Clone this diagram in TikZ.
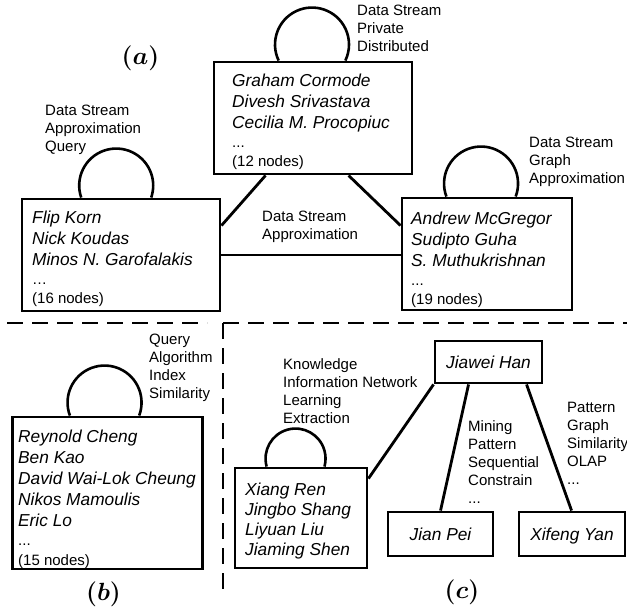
\documentclass[tikz,border=0pt]{standalone}
\usepackage[no-math]{fontspec}
\setmainfont{Liberation Sans}
\usepackage{bm}
\usetikzlibrary{calc}
\newcommand\nmfont{\fontsize{17.3}{21}\selectfont\itshape}
\newcommand\lbfont{\fontsize{15}{18}\selectfont\upshape}
\newcommand\tagfont{\fontsize{25}{30}\selectfont\boldmath}
\tikzset{
  box/.style={draw, line width=2.9pt, inner sep=0pt},
  namebox/.style={box, font=\nmfont, text depth=0pt},
  txt/.style={anchor=base west, inner sep=0pt, align=left},
  lbl/.style={anchor=base west, inner sep=0pt, font=\lbfont},
  loopline/.style={line width=2.6pt},
  conn/.style={line width=2.8pt},
  divline/.style={line width=2.9pt, dash pattern=on 16pt off 9pt},
  tag/.style={inner sep=0pt, font=\tagfont}
}
\begin{document}
\begin{tikzpicture}[x=1pt,y=1pt]
\useasboundingbox (0,0) rectangle (627,-611);

% ---------- (a) ----------
\node[tag] (taga) at (140.5,-58) {$(\bm{a})$};

\node[box, minimum width=198, minimum height=112] (a0) at (313,-118) {};
\node[txt] (a0t) at (232,-86) {\nmfont\begin{tabular}[t]{@{}l@{}}Graham Cormode\\Divesh Srivastava\\Cecilia M. Procopiuc\\[-2pt]\lbfont ...\\[-2pt]\lbfont (12 nodes)\end{tabular}};

\node[box, minimum width=198, minimum height=112] (a1) at (121,-255) {};
\node[txt] (a1t) at (32,-223) {\nmfont\begin{tabular}[t]{@{}l@{}}Flip Korn\\Nick Koudas\\Minos N. Garofalakis\\[-2pt]\lbfont …\\[-2pt]\lbfont (16 nodes)\end{tabular}};

\node[box, minimum width=170, minimum height=112] (a2) at (487,-254) {};
\node[txt] (a2t) at (411,-224) {\nmfont\begin{tabular}[t]{@{}l@{}}Andrew McGregor\\Sudipto Guha\\S. Muthukrishnan\\[-2pt]\lbfont ...\\[-2pt]\lbfont (19 nodes)\end{tabular}};

\draw[loopline] ($(a0.north west)+(66.1,0)$) arc[start angle=205.62, end angle=-25.62, radius=37];
\draw[loopline] ($(a1.north west)+(60.65,0)$) arc[start angle=198.92, end angle=-18.92, radius=37];
\draw[loopline] ($(a2.north west)+(45.86,0)$) arc[start angle=200.57, end angle=-20.57, radius=37];

\node[lbl] (l0) at (357,-15.7) {\begin{tabular}[t]{@{}l@{}}Data Stream\\Private\\Distributed\end{tabular}};
\node[lbl] (l1) at (45,-115) {\begin{tabular}[t]{@{}l@{}}Data Stream\\Approximation\\Query\end{tabular}};
\node[lbl] (l2) at (529,-147.3) {\begin{tabular}[t]{@{}l@{}}Data Stream\\Graph\\Approximation\end{tabular}};
\node[lbl] (lm) at (262,-221) {\begin{tabular}[t]{@{}l@{}}Data Stream\\Approximation\end{tabular}};

\draw[conn] ($(a0.south west)+(53,0)$) -- ($(a1.north east)+(0,-28)$);
\draw[conn] ($(a0.south west)+(136,0)$) -- ($(a2.north west)+(0,-29)$);
\draw[conn] (a1.east) -- (a1.east -| a2.west);

% ---------- dividers ----------
\coordinate (d0) at (7,-323);
\coordinate (d1) at (207,-323);
\coordinate (dc) at (223,-323);
\coordinate (dr) at (627,-323);
\coordinate (db) at (223,-590);
\draw[divline] (d0) -- (d1);
\draw[divline] (dc) -- (dr);
\draw[divline] (dc) -- (db);

% ---------- (b) ----------
\node[box, minimum width=190, minimum height=152] (b) at (107.7,-493) {};
\node[txt] (bt) at (18,-442) {\nmfont\begin{tabular}[t]{@{}l@{}}Reynold Cheng\\Ben Kao\\David Wai-Lok Cheung\\Nikos Mamoulis\\Eric Lo\\[-2pt]\lbfont ...\\[-1pt]\lbfont (15 nodes)\end{tabular}};
\draw[loopline] ($(b.north west)+(58.66,0)$) arc[start angle=200.57, end angle=-20.57, radius=37];
\node[lbl] (lb) at (149,-344) {\begin{tabular}[t]{@{}l@{}}Query\\Algorithm\\Index\\Similarity\end{tabular}};
\node[tag] (tagb) at (103.5,-594) {$(\bm{b})$};

% ---------- (c) ----------
\node[namebox, minimum width=107, minimum height=42] (j) at (488.5,-362) {Jiawei Han};
\node[namebox, minimum width=105, minimum height=44] (p) at (440.5,-534) {Jian Pei};
\node[namebox, minimum width=106, minimum height=44] (xy) at (572,-534) {Xifeng Yan};
\node[box, minimum width=132, minimum height=100] (c1) at (301,-518) {};
\node[txt] (c1t) at (245,-495) {\nmfont\begin{tabular}[t]{@{}l@{}}Xiang Ren\\[-1pt]Jingbo Shang\\[-1pt]Liyuan Liu\\[-1pt]Jiaming Shen\end{tabular}};
\draw[loopline] ($(c1.north west)+(33.09,0)$) arc[start angle=195.47, end angle=-15.47, radius=30];

\node[lbl] (lk) at (283,-369.3) {\begin{tabular}[t]{@{}l@{}}Knowledge\\Information Network\\Learning\\Extraction\end{tabular}};
\node[lbl] (lmi) at (468,-431.7) {\begin{tabular}[t]{@{}l@{}}Mining\\Pattern\\Sequential\\Constrain\\...\end{tabular}};
\node[lbl] (lpa) at (567,-412.7) {\begin{tabular}[t]{@{}l@{}}Pattern\\Graph\\Similarity\\OLAP\\...\end{tabular}};

\draw[conn] (j.south west) -- ($(c1.north east)+(0,-12)$);
\draw[conn] ($(j.south west)+(35,0)$) -- ($(p.north west)+(54,0)$);
\draw[conn] ($(j.south west)+(93,0)$) -- ($(xy.north west)+(54,0)$);

\node[tag] (tagc) at (462,-592) {$(\bm{c})$};
\end{tikzpicture}
\end{document}
